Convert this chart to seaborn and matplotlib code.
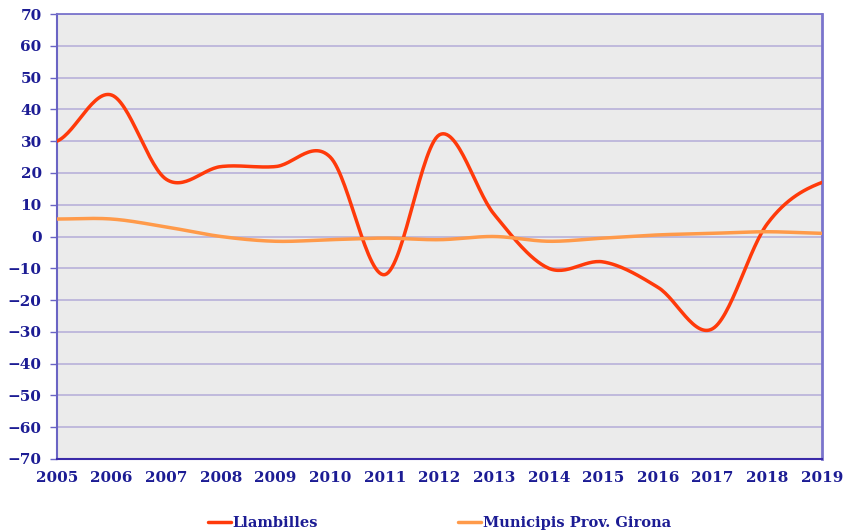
import numpy as np
import pandas as pd
import matplotlib
matplotlib.use("Agg")
import matplotlib.pyplot as plt
import seaborn as sns

years = list(range(2005, 2020))
llambilles = [30, 44.5, 18, 22, 22, 25, -12, 32, 7, -10, -8, -16, -29, 4, 17]
girona = [5.5, 5.5, 3, 0, -1.5, -1, -0.5, -1, 0, -1.5, -0.5, 0.5, 1, 1.5, 1]
yticks = list(range(-70, 80, 10))

NAVY = "#1c1c94"
RED = "#ff3a0a"
ORANGE = "#ff9a4a"


# suavizado tipo Excel (Catmull-Rom) solo para dibujar la curva
def smooth(x, y, n=30):
    x = np.asarray(x, float)
    y = np.asarray(y, float)
    px = np.concatenate([[2 * x[0] - x[1]], x, [2 * x[-1] - x[-2]]])
    py = np.concatenate([[y[0]], y, [y[-1]]])
    xs, ys = [], []
    t = np.linspace(0, 1, n, endpoint=False)
    for i in range(1, len(px) - 2):
        p0, p1, p2, p3 = py[i - 1], py[i], py[i + 1], py[i + 2]
        c1 = p1 + (p2 - p0) / 6
        c2 = p2 - (p3 - p1) / 6
        b = (1 - t) ** 3 * p1 + 3 * (1 - t) ** 2 * t * c1 + 3 * (1 - t) * t ** 2 * c2 + t ** 3 * p2
        xs.extend(px[i] + t * (px[i + 1] - px[i]))
        ys.extend(b)
    xs.append(x[-1])
    ys.append(y[-1])
    return np.array(xs), np.array(ys)


sns.set_theme(style="white")
plt.rcParams["font.family"] = ["DejaVu Serif"]
plt.rcParams["font.weight"] = "bold"

fig = plt.figure(figsize=(8.43, 5.31), dpi=100)
ax = fig.add_axes([0.0676, 0.1356, 0.9074, 0.838])
ax.set_facecolor("#ebebeb")

for vals, name, col in [(llambilles, "Llambilles", RED), (girona, "Municipis Prov. Girona", ORANGE)]:
    sx, sy = smooth(years, vals)
    df = pd.DataFrame({"year": sx, "value": sy})
    sns.lineplot(data=df, x="year", y="value", ax=ax, color=col, linewidth=2.5,
                 sort=False, label=name, zorder=3)

ax.set_xlim(years[0], years[-1])
ax.set_ylim(-70, 70)
ax.set_yticks(yticks)
ax.set_xticks(years)
ax.set_xticklabels([str(y) for y in years])
ax.yaxis.grid(True, color="#b4acd8", linewidth=1.1, zorder=1)
ax.xaxis.grid(False)
ax.set_xlabel("")
ax.set_ylabel("")

ax.tick_params(axis="y", length=5, width=1, color="#6a64c4", pad=6,
               labelsize=11, labelcolor=NAVY, left=True)
ax.tick_params(axis="x", length=0, pad=9, labelsize=11, labelcolor=NAVY)
for lab in ax.get_xticklabels() + ax.get_yticklabels():
    lab.set_fontweight("bold")

ax.spines["left"].set_color("#6a64c4")
ax.spines["left"].set_linewidth(1.5)
ax.spines["top"].set_color("#7a74cc")
ax.spines["top"].set_linewidth(1.3)
ax.spines["right"].set_color("#7a74cc")
ax.spines["right"].set_linewidth(2)
ax.spines["bottom"].set_color("#3a2aa8")
ax.spines["bottom"].set_linewidth(1.5)

leg = ax.legend(loc="lower center", bbox_to_anchor=(0.5, -0.19), ncol=2, frameon=False,
                handlelength=1.6, handletextpad=0.1, columnspacing=9.6,
                prop={"family": "DejaVu Serif", "weight": "bold", "size": 10.5})
for t in leg.get_texts():
    t.set_color(NAVY)

fig.savefig("out.png", dpi=100)
